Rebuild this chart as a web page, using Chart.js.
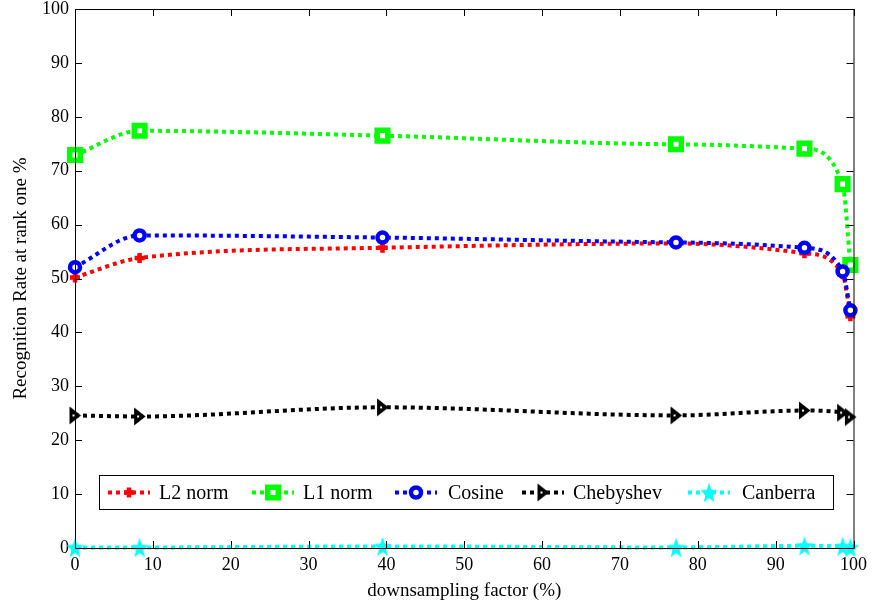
<!DOCTYPE html>
<html>
<head>
<meta charset="utf-8">
<script src="https://cdn.jsdelivr.net/npm/chart.js@4"></script>
<style>
html,body{margin:0;padding:0;background:#fff;overflow:hidden;}
#wrap{width:873px;height:604px;position:relative;overflow:hidden;}
#c{position:absolute;left:0;top:-5px;}
</style>
</head>
<body>
<div id="wrap"><canvas id="c" width="873" height="609"></canvas></div>
<script>
// ---- data ----
const xFactors = [0, 8.3, 39.5, 77.2, 93.7, 98.6, 99.6];
const l2Norm    = [50.2, 53.8, 55.7, 56.5, 54.7, 50.8, 43.0];
const l1Norm    = [72.9, 77.4, 76.5, 74.9, 74.1, 67.5, 52.5];
const cosine    = [52.1, 58.0, 57.6, 56.7, 55.7, 51.3, 44.1];
const chebyshev = [24.6, 24.4, 26.1, 24.6, 25.5, 25.1, 24.3];
const canberra  = [0.1, 0.1, 0.3, 0.1, 0.4, 0.3, 0.1];
const seriesNames = ['L2 norm', 'L1 norm', 'Cosine', 'Chebyshev', 'Canberra'];
const xTicks = [0,10,20,30,40,50,60,70,80,90,100];
const yTicks = [0,10,20,30,40,50,60,70,80,90,100];

const FONT = '"Liberation Serif", "DejaVu Serif", serif';

function makeStar(){
  const c = document.createElement('canvas');
  c.width = 18; c.height = 22;
  const g = c.getContext('2d');
  g.fillStyle = '#00ffff';
  g.beginPath();
  const cx = 9, cy = 12, ro = 9, ri = 3.8, sy = 1.2;
  for (let i = 0; i < 10; i++) {
    const r = i % 2 === 0 ? ro : ri;
    const a = -Math.PI/2 + i * Math.PI/5;
    const px = cx + r*Math.cos(a), py = cy + r*Math.sin(a)*sy;
    if (i === 0) g.moveTo(px, py); else g.lineTo(px, py);
  }
  g.closePath(); g.fill();
  return c;
}
function makeTri(){
  const c = document.createElement('canvas');
  c.width = 13; c.height = 19;
  const g = c.getContext('2d');
  g.fillStyle = '#000';
  g.beginPath(); g.moveTo(1,0.5); g.lineTo(12.5,9.5); g.lineTo(1,18.5); g.closePath(); g.fill();
  g.fillStyle = '#fff';
  g.fillRect(4,8.5,2,2);
  return c;
}
const starImg = makeStar();
const triImg = makeTri();

function ds(label, data, color, style, extra, order){
  return Object.assign({
    label,
    data: data.map((v,i)=>({x:xFactors[i], y:v})),
    borderColor: color,
    borderWidth: 4,
    borderDash: [4,4],
    borderCapStyle: 'butt',
    pointStyle: style,
    pointBorderColor: color,
    pointBackgroundColor: '#fff',
    cubicInterpolationMode: 'monotone',
    fill: false,
    clip: false,
    order
  }, extra);
}

const datasets = [
  ds(seriesNames[0], l2Norm, '#ff0000', 'cross', {pointRadius:5, pointBorderWidth:4.5, pointBackgroundColor:'#ff0000'}, 5),
  ds(seriesNames[1], l1Norm, '#00ff00', 'rect', {pointRadius:7.5, pointBorderWidth:5.5}, 4),
  ds(seriesNames[2], cosine, '#0000ff', 'circle', {pointRadius:5, pointBorderWidth:4.5}, 3),
  ds(seriesNames[3], chebyshev, '#000000', triImg, {pointRadius:8}, 2),
  ds(seriesNames[4], canberra, '#00ffff', starImg, {pointRadius:10}, 1)
];

const frame = {
  id: 'frame',
  afterDatasetsDraw(chart){
    const {ctx, chartArea:a, scales:{x,y}} = chart;
    ctx.save();
    ctx.strokeStyle = '#000';
    ctx.lineWidth = 1;
    ctx.strokeRect(a.left+0.5, a.top+0.5, a.right-a.left, a.bottom-a.top);
    ctx.beginPath();
    xTicks.forEach(v=>{
      const px = Math.round(x.getPixelForValue(v))+0.5;
      ctx.moveTo(px, a.bottom); ctx.lineTo(px, a.bottom-7);
      ctx.moveTo(px, a.top); ctx.lineTo(px, a.top+7);
    });
    yTicks.forEach(v=>{
      const py = Math.round(y.getPixelForValue(v))+0.5;
      ctx.moveTo(a.left, py); ctx.lineTo(a.left+7, py);
      ctx.moveTo(a.right, py); ctx.lineTo(a.right-7, py);
    });
    ctx.stroke();
    ctx.restore();
  },
  afterDraw(chart){
    const ctx = chart.ctx;
    const a = chart.chartArea;
    // legend box (placed relative to the bottom of the plot area)
    const bx = 99.5, by = a.bottom - 72.5, bw = 734, bh = 34;
    ctx.save();
    ctx.fillStyle = '#fff';
    ctx.fillRect(bx, by, bw, bh);
    ctx.strokeStyle = '#000';
    ctx.lineWidth = 1;
    ctx.strokeRect(bx, by, bw, bh);
    const sampleX = [108, 252, 395, 522, 688];
    const textX = [159, 303, 448, 573, 742];
    const cy = by + bh/2;
    ctx.font = '20px ' + FONT;
    ctx.textBaseline = 'middle';
    chart.data.datasets.forEach((d,i)=>{
      ctx.save();
      ctx.strokeStyle = d.borderColor;
      ctx.lineWidth = 4;
      ctx.setLineDash([4,4]);
      ctx.beginPath(); ctx.moveTo(sampleX[i], cy); ctx.lineTo(sampleX[i]+42, cy); ctx.stroke();
      ctx.restore();
      ctx.save();
      ctx.fillStyle = d.pointBackgroundColor; ctx.strokeStyle = d.pointBorderColor;
      ctx.lineWidth = d.pointBorderWidth || 1;
      Chart.helpers.drawPoint(ctx, {pointStyle:d.pointStyle, rotation:0, radius:d.pointRadius, borderWidth:d.pointBorderWidth || 0}, sampleX[i]+21, cy);
      ctx.restore();
      ctx.fillStyle = '#000';
      ctx.fillText(d.label, textX[i], cy+1);
    });
    ctx.restore();
  }
};

new Chart(document.getElementById('c'), {
  type: 'line',
  data: { datasets },
  options: {
    responsive: false,
    animation: false,
    devicePixelRatio: 1,
    layout: { padding: { top: 0, right: 18, left: 0, bottom: 0 } },
    plugins: { legend: { display: false }, tooltip: { enabled: false } },
    scales: {
      x: {
        type: 'linear', min: 0, max: 100,
        grid: { display: false, drawTicks: false },
        border: { display: false },
        afterBuildTicks: s => { s.ticks = xTicks.map(v=>({value:v})); },
        ticks: { font: { family: FONT, size: 18 }, color: '#000', padding: 6, maxRotation: 0 },
        title: { display: true, text: 'downsampling factor (%)', font: { family: FONT, size: 19 }, color: '#000', padding: { top: 2, bottom: 2 } },
        afterFit: s => { s.height = 56; }
      },
      y: {
        type: 'linear', min: 0, max: 100,
        grid: { display: false, drawTicks: false },
        border: { display: false },
        afterBuildTicks: s => { s.ticks = yTicks.map(v=>({value:v})); },
        ticks: { font: { family: FONT, size: 18 }, color: '#000', padding: 6 },
        title: { display: true, text: 'Recognition Rate at rank one %', font: { family: FONT, size: 19 }, color: '#000', padding: { top: 10, bottom: 4 } },
        afterFit: s => { s.width = 75; s.paddingTop = 3; }
      }
    }
  },
  plugins: [frame]
});
</script>
</body>
</html>
